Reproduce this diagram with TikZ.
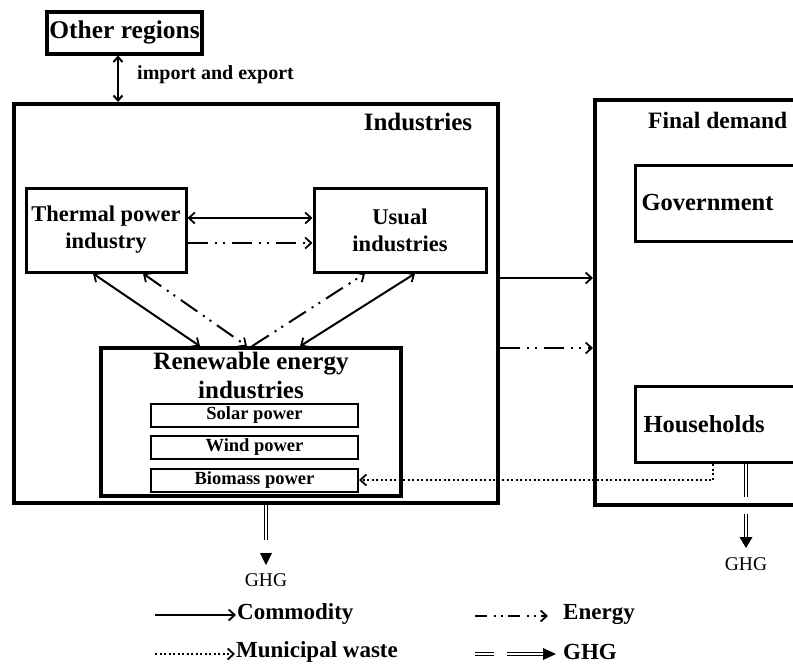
\documentclass[tikz,border=0pt]{standalone}
\usepackage{fontspec}
\setmainfont{Liberation Serif}
\usetikzlibrary{arrows.meta}
\tikzset{
  bigbox/.style={draw, line width=4pt, inner sep=0pt},
  midbox/.style={draw, line width=3pt, inner sep=0pt, align=center},
  subbox/.style={draw, line width=2pt, inner sep=0pt},
  lbl/.style={font=\fontsize{23}{26}\selectfont\bfseries, inner sep=0pt},
  slbl/.style={font=\fontsize{18.5}{21}\selectfont\bfseries, inner sep=0pt},
  barb/.tip={Straight Barb[length=6pt,width=11pt,line width=1.8pt]},
  comm/.style={line width=2pt, {barb}-{barb}},
  commr/.style={line width=2pt, -{barb}},
  energy/.style={line width=2pt, dash pattern=on 20pt off 7pt on 2pt off 6pt on 2pt off 7pt},
  waste/.style={line width=2pt, dash pattern=on 2pt off 2.5pt},
  ghgline/.style={double, line width=1pt, double distance=2.5pt},
  ghgtip/.style={fill=black},
  ghgtxt/.style={font=\fontsize{19.5}{22}\selectfont, inner sep=0pt},
}
\begin{document}
\begin{tikzpicture}[x=1pt,y=-1pt]
\useasboundingbox (0,0) rectangle (793,665);
\clip (0,0) rectangle (793,665);
% outer boxes
\node[bigbox, minimum width=155, minimum height=42, font=\fontsize{25.5}{28}\selectfont\bfseries] (other) at (124.5,32.5) {Other regions};
\node[bigbox, minimum width=484, minimum height=399] (ind) at (256,303.5) {};
\node[lbl, font=\fontsize{25}{28}\selectfont\bfseries] (indl) at (418,122) {Industries};
\node[bigbox, minimum width=230, minimum height=405] (fd) at (710,302.5) {};
\node[lbl, anchor=west, font=\fontsize{23.5}{28}\selectfont\bfseries] (fdl) at (648,120) {Final demand};
\node[midbox, minimum width=185, minimum height=76, text width=172, align=left, font=\fontsize{24.5}{28}\selectfont\bfseries] (gov) at (727.5,203) {Government};
\node[midbox, minimum width=185, minimum height=76, text width=168, align=left, font=\fontsize{24.5}{28}\selectfont\bfseries] (hh) at (727.5,424.5) {Households};
% industries inside
\node[midbox, minimum width=160, minimum height=84, font=\fontsize{22.5}{27}\selectfont\bfseries] (th) at (106,230) {Thermal power\\industry};
\node[midbox, minimum width=172, minimum height=84, font=\fontsize{22.5}{27}\selectfont\bfseries] (us) at (400,230) {Usual\\industries};
\node[midbox, line width=3.5pt, minimum width=300, minimum height=148] (re) at (251,422) {};
\node[lbl, align=center, font=\fontsize{25}{29}\selectfont\bfseries] (rel) at (251,375) {Renewable energy\\industries};
\node[subbox, slbl, minimum width=207, minimum height=23] (sol) at (254.5,415) {Solar power};
\node[subbox, slbl, minimum width=207, minimum height=23] (win) at (254.5,447) {Wind power};
\node[subbox, slbl, minimum width=207, minimum height=23] (bio) at (254.5,480) {Biomass power};
% import/export
\node[slbl, anchor=west, font=\fontsize{20}{22}\selectfont\bfseries] (imp) at (137,75) {import and export};
\draw[line width=2pt, {Straight Barb[length=5pt,width=9pt]}-{Straight Barb[length=5pt,width=9pt]}] ([xshift=-6.5pt]other.south) -- ([xshift=-6.5pt]other.south |- ind.north);
% arrows between industries
\draw[comm] ([yshift=12pt]th.east) -- ([yshift=12pt]us.west);
\draw[energy, -{barb}] ([yshift=-13pt]th.east) -- ([yshift=-13pt]us.west);
\draw[comm] ([xshift=-13pt]th.south) -- ([xshift=-51pt]re.north);
\draw[energy, {barb}-{barb}] ([xshift=37pt]th.south) -- ([xshift=-4pt]re.north);
\draw[energy, -{barb}] ([xshift=1pt]re.north) -- ([xshift=-35pt]us.south);
\draw[comm] ([xshift=15pt]us.south) -- ([xshift=49pt]re.north);
% industries to final demand
\draw[commr] ([yshift=25.5pt]ind.east) -- ([yshift=25.5pt]ind.east -| fd.west);
\draw[energy, -{barb}] ([yshift=-44.5pt]ind.east) -- ([yshift=-44.5pt]ind.east -| fd.west);
% municipal waste
\draw[waste, -{barb}] ([xshift=-14.5pt]hh.south) |- (bio.east);
% GHG from households
\coordinate (hg1) at (746,497);
\coordinate (hg2) at (746,514);
\coordinate (hg3) at (746,538);
\draw[ghgline] ([xshift=18.5pt]hh.south) -- (hg1);
\draw[ghgline] (hg2) -- (hg3);
\fill[ghgtip] (739.5,537) -- (752.5,537) -- (746,548) -- cycle;
\node[ghgtxt] (ghgh) at (746,564) {GHG};
% GHG from industries
\coordinate (ig1) at (266,540);
\draw[ghgline] ([xshift=10pt]ind.south) -- (ig1);
\fill[ghgtip] (260,553) -- (272,553) -- (266,565) -- cycle;
\node[ghgtxt] (ghgi) at (266,580) {GHG};
% legend
\coordinate (lc1) at (155,615);
\coordinate (lc2) at (236,615);
\draw[commr] (lc1) -- (lc2);
\node[lbl, anchor=west] (lcom) at (237,614) {Commodity};
\coordinate (lw1) at (155,654);
\coordinate (lw2) at (235,654);
\draw[waste, -{barb}] (lw1) -- (lw2);
\node[lbl, anchor=west] (lwas) at (236,652) {Municipal waste};
\coordinate (le1) at (475,616);
\coordinate (le2) at (548,616);
\draw[line width=2pt, dash pattern=on 12pt off 7pt on 2pt off 5pt on 2pt off 5pt, -{barb}] (le1) -- (le2);
\node[lbl, anchor=west] (lene) at (563,614) {Energy};
\coordinate (lg1) at (475,654);
\coordinate (lg2) at (494,654);
\coordinate (lg3) at (507,654);
\coordinate (lg4) at (544,654);
\draw[ghgline] (lg1) -- (lg2);
\draw[ghgline] (lg3) -- (lg4);
\fill[ghgtip] (543,648) -- (556,654) -- (543,660) -- cycle;
\node[lbl, anchor=west] (lghg) at (563,652) {GHG};
\end{tikzpicture}
\end{document}
